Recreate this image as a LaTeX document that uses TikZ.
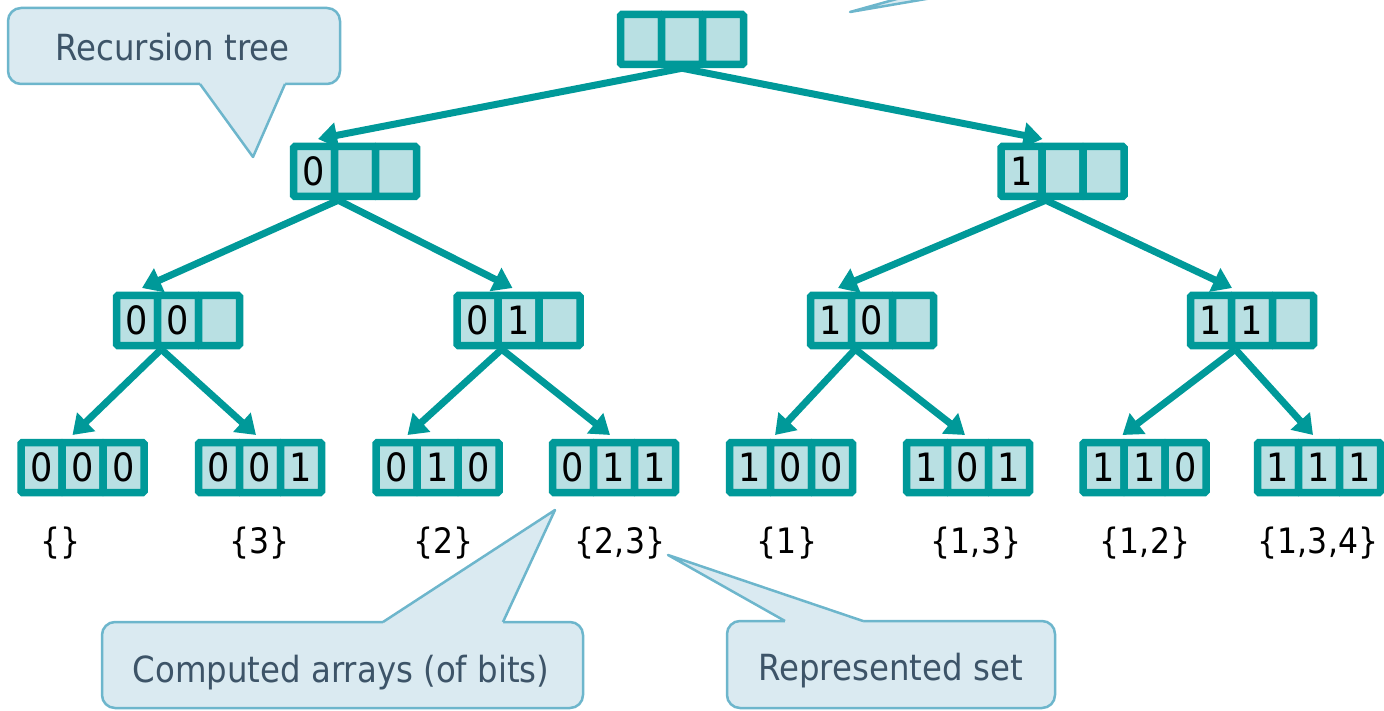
\documentclass[tikz,border=0pt]{standalone}
\usepackage{fontspec}
\setmainfont{DejaVu Sans}[FakeStretch=0.9]
\usetikzlibrary{arrows.meta}

\definecolor{treeteal}{HTML}{009999}
\definecolor{cellfill}{HTML}{B9E0E3}
\definecolor{callfill}{HTML}{DAEAF1}
\definecolor{callline}{HTML}{6DB6CC}
\definecolor{calltext}{HTML}{3D5468}

\tikzset{
  cell/.style={draw=treeteal, fill=cellfill, line width=7.5pt, rounded corners=1.5pt,
    minimum width=41pt, minimum height=50pt, inner sep=0pt, text=black,
    font=\fontsize{39}{41}\selectfont},
  edge/.style={draw=treeteal, line width=7pt,
    -{Triangle[length=19pt,width=25pt]}},
  setlabel/.style={anchor=base, inner sep=0pt, text=black, font=\fontsize{35}{38}\selectfont},
  calloutbox/.style={fill=callfill, draw=callline, line width=2.5pt, rounded corners=13pt},
  callouttext/.style={anchor=base, inner sep=0pt, text=calltext, font=\fontsize{36}{40}\selectfont},
}

% three-cell bit array: name, centre x, centre y, cell contents
\newcommand\bitarray[6]{%
  \node[cell] (#1a) at (#2-41,#3) {#4};
  \node[cell] (#1b) at (#2,#3) {#5};
  \node[cell] (#1c) at (#2+41,#3) {#6};
}

% speech-bubble tail: base left x, base right x, base y, tip x, tip y, strip direction
\newcommand\bubbletail[6]{%
  \fill[callfill] (#1,#3) -- (#4,#5) -- (#2,#3) -- (#2,#3#6) -- (#1,#3#6) -- cycle;
  \draw[callline, line width=2.5pt, line join=round] (#1,#3) -- (#4,#5) -- (#2,#3);
}

\begin{document}
\begin{tikzpicture}[x=1pt, y=-1pt]
\useasboundingbox (0,0) rectangle (1384,711);
\clip (0,0) rectangle (1384,711);

% callouts
\draw[calloutbox] (8,8) rectangle (340,84);
\bubbletail{200}{285}{84}{253}{157}{-5}
\node[callouttext] (crec) at (172.5,61) {Recursion tree};

\draw[calloutbox] (102,622) rectangle (583,708);
\bubbletail{383}{503}{622}{555}{510}{+5}
\node[callouttext] (ccomp) at (341,682) {Computed arrays (of bits)};

\draw[calloutbox] (727,621) rectangle (1055,708);
\bubbletail{785}{863}{621}{668}{555}{+5}
\node[callouttext] (crep) at (890.5,680) {Represented set};

% tail of a bubble above the top edge
\filldraw[fill=callfill, draw=callline, line width=2.5pt, line join=round]
  (965,-20) -- (850,12) -- (1037,-20);

% the tree
\bitarray{t}{682}{39.5}{}{}{}
\bitarray{la}{355}{171.5}{0}{}{}
\bitarray{lb}{1062.5}{171.5}{1}{}{}
\bitarray{maa}{178}{320.5}{0}{0}{}
\bitarray{mab}{518.5}{320.5}{0}{1}{}
\bitarray{mba}{872}{320.5}{1}{0}{}
\bitarray{mbb}{1252}{320.5}{1}{1}{}
\bitarray{baaa}{82.5}{467.5}{0}{0}{0}
\bitarray{baab}{260}{467.5}{0}{0}{1}
\bitarray{baba}{437.5}{467.5}{0}{1}{0}
\bitarray{babb}{614}{467.5}{0}{1}{1}
\bitarray{bbaa}{791}{467.5}{1}{0}{0}
\bitarray{bbab}{968}{467.5}{1}{0}{1}
\bitarray{bbba}{1144.5}{467.5}{1}{1}{0}
\bitarray{bbbb}{1319}{467.5}{1}{1}{1}

% recursion edges
\draw[edge] (tb.south) -- ([xshift=-37pt,yshift=3.75pt]lab.north);
\draw[edge] (tb.south) -- ([xshift=-20pt,yshift=3.75pt]lbb.north);
\draw[edge] (laa.south east) -- ([xshift=-36pt,yshift=3.75pt]maab.north);
\draw[edge] (laa.south east) -- ([xshift=-6pt,yshift=3.75pt]mabb.north);
\draw[edge] (lba.south east) -- ([xshift=-34pt,yshift=3.75pt]mbab.north);
\draw[edge] (lba.south east) -- ([xshift=-20pt,yshift=3.75pt]mbbb.north);
\draw[edge] (maaa.south east) -- ([xshift=-10pt,yshift=3.75pt]baaab.north);
\draw[edge] (maaa.south east) -- ([xshift=-4pt,yshift=3.75pt]baabb.north);
\draw[edge] (maba.south east) -- ([xshift=-30pt,yshift=3.75pt]babab.north);
\draw[edge] (maba.south east) -- ([xshift=-4pt,yshift=3.75pt]babbb.north);
\draw[edge] (mbaa.south east) -- ([xshift=-16pt,yshift=3.75pt]bbaab.north);
\draw[edge] (mbaa.south east) -- ([xshift=-3pt,yshift=3.75pt]bbabb.north);
\draw[edge] (mbba.south east) -- ([xshift=-22pt,yshift=3.75pt]bbbab.north);
\draw[edge] (mbba.south east) -- ([xshift=-6pt,yshift=3.75pt]bbbbb.north);

% represented sets
\node[setlabel] (saaa) at (61,553) {\{\}};
\node[setlabel] (saab) at (259.5,553) {\{3\}};
\node[setlabel] (saba) at (443.5,553) {\{2\}};
\node[setlabel] (sabb) at (620,553) {\{2,3\}};
\node[setlabel] (sbaa) at (787,553) {\{1\}};
\node[setlabel] (sbab) at (976,553) {\{1,3\}};
\node[setlabel] (sbba) at (1145,553) {\{1,2\}};
\node[setlabel] (sbbb) at (1318,553) {\{1,3,4\}};
\end{tikzpicture}
\end{document}
